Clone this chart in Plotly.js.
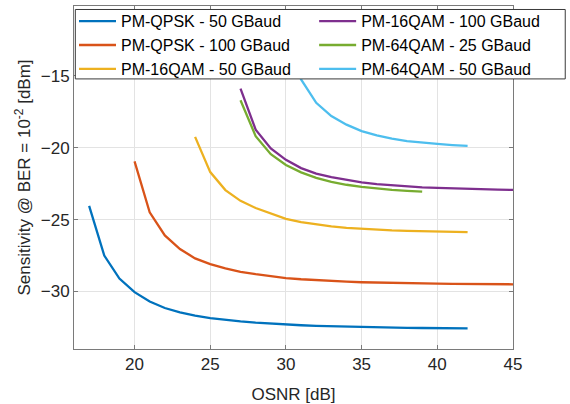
<!DOCTYPE html>
<html>
<head>
<meta charset="utf-8">
<script src="https://cdn.plot.ly/plotly-3.0.1.min.js"></script>
<style>
html,body{margin:0;padding:0;background:#ffffff;}
#chart{width:570px;height:404px;}
</style>
</head>
<body>
<div id="chart"></div>
<script>
// Series names
const seriesNames = [
  'PM-QPSK - 50 GBaud',
  'PM-QPSK - 100 GBaud',
  'PM-16QAM - 50 GBaud',
  'PM-16QAM - 100 GBaud',
  'PM-64QAM - 25 GBaud',
  'PM-64QAM - 50 GBaud'
];
const seriesColors = ['#0072BD', '#D95319', '#EDB120', '#7E2F8E', '#77AC30', '#4DBEEE'];

// OSNR [dB] values for each series
const osnrQpsk50   = [17,18,19,20,21,22,23,24,25,26,27,28,29,30,31,32,33,34,35,36,37,38,39,40,41,42];
const osnrQpsk100  = [20,21,22,23,24,25,26,27,28,29,30,31,32,33,34,35,36,37,38,39,40,41,42,43,44,45];
const osnr16qam50  = [24,25,26,27,28,29,30,31,32,33,34,35,36,37,38,39,40,41,42];
const osnr16qam100 = [27,28,29,30,31,32,33,34,35,36,37,38,39,40,41,42,43,44,45];
const osnr64qam25  = [27,28,29,30,31,32,33,34,35,36,37,38,39];
const osnr64qam50  = [30,31,32,33,34,35,36,37,38,39,40,41,42];

// Sensitivity @ BER = 1e-2 [dBm]
const sensQpsk50   = [-24.05,-27.5,-29.1,-30.05,-30.7,-31.15,-31.45,-31.68,-31.85,-31.98,-32.08,-32.17,-32.24,-32.3,-32.35,-32.39,-32.42,-32.45,-32.47,-32.49,-32.51,-32.53,-32.54,-32.55,-32.56,-32.57];
const sensQpsk100  = [-20.95,-24.5,-26.1,-27.05,-27.7,-28.1,-28.4,-28.63,-28.8,-28.95,-29.07,-29.15,-29.22,-29.28,-29.32,-29.36,-29.39,-29.41,-29.43,-29.45,-29.46,-29.47,-29.48,-29.49,-29.5,-29.5];
const sens16qam50  = [-19.25,-21.7,-22.95,-23.7,-24.2,-24.6,-24.95,-25.18,-25.35,-25.48,-25.58,-25.65,-25.7,-25.75,-25.78,-25.81,-25.83,-25.85,-25.88];
const sens16qam100 = [-15.9,-18.75,-20.05,-20.85,-21.42,-21.8,-22.05,-22.25,-22.42,-22.54,-22.63,-22.7,-22.76,-22.8,-22.84,-22.87,-22.9,-22.92,-22.94];
const sens64qam25  = [-16.7,-19.2,-20.45,-21.2,-21.72,-22.1,-22.38,-22.58,-22.72,-22.84,-22.93,-23.0,-23.06];
const sens64qam50  = [-12.7,-15.25,-16.88,-17.8,-18.4,-18.85,-19.15,-19.38,-19.55,-19.66,-19.74,-19.82,-19.88];

const xs = [osnrQpsk50, osnrQpsk100, osnr16qam50, osnr16qam100, osnr64qam25, osnr64qam50];
const ys = [sensQpsk50, sensQpsk100, sens16qam50, sens16qam100, sens64qam25, sens64qam50];
const legendIds = ['legend','legend','legend','legend2','legend2','legend2'];

const traces = seriesNames.map((name, i) => ({
  type: 'scatter',
  mode: 'lines',
  name: name,
  x: xs[i],
  y: ys[i],
  line: {color: seriesColors[i], width: 2.3},
  legend: legendIds[i],
  hoverinfo: 'skip'
}));

const axisColor = '#7a7a7a';
const tickFont = {family: 'Arial, Liberation Sans, sans-serif', size: 17, color: '#262626'};
const legendFont = {family: 'Arial, Liberation Sans, sans-serif', size: 16, color: '#000000'};

const layout = {
  width: 570,
  height: 404,
  margin: {l: 74, r: 57, t: 6, b: 55, autoexpand: false},
  paper_bgcolor: '#ffffff',
  plot_bgcolor: '#ffffff',
  showlegend: true,
  xaxis: {
    range: [16, 45],
    tick0: 0, dtick: 5,
    ticks: 'inside', ticklen: 4, tickcolor: axisColor,
    showline: true, linecolor: axisColor, linewidth: 1, mirror: 'ticks',
    showgrid: true, gridcolor: '#e3e3e3', gridwidth: 1,
    zeroline: false,
    tickfont: tickFont,
    title: {text: 'OSNR [dB]', font: tickFont}
  },
  yaxis: {
    range: [-34, -10.15],
    tick0: 0, dtick: 5,
    ticks: 'inside', ticklen: 4, tickcolor: axisColor,
    showline: true, linecolor: axisColor, linewidth: 1, mirror: 'ticks',
    showgrid: true, gridcolor: '#e3e3e3', gridwidth: 1,
    zeroline: false,
    tickfont: tickFont,
    title: {text: 'Sensitivity @ BER = 10<sup>-2</sup> [dBm]', font: tickFont}
  },
  legend: {
    x: 0, xanchor: 'left', y: 1.005, yanchor: 'top',
    bgcolor: 'rgba(0,0,0,0)', borderwidth: 0,
    font: legendFont, itemwidth: 37, tracegroupgap: 0
  },
  legend2: {
    x: 0.547, xanchor: 'left', y: 1.005, yanchor: 'top',
    bgcolor: 'rgba(0,0,0,0)', borderwidth: 0,
    font: legendFont, itemwidth: 37, tracegroupgap: 0
  },
  shapes: [{
    type: 'rect', xref: 'paper', yref: 'paper',
    x0: 0.003, x1: 1.119, y0: 0.7874, y1: 0.9898,
    fillcolor: '#ffffff',
    line: {color: '#3a3a3a', width: 1},
    layer: 'above'
  }]
};

Plotly.newPlot('chart', traces, layout, {displayModeBar: false, staticPlot: true});
</script>
</body>
</html>
